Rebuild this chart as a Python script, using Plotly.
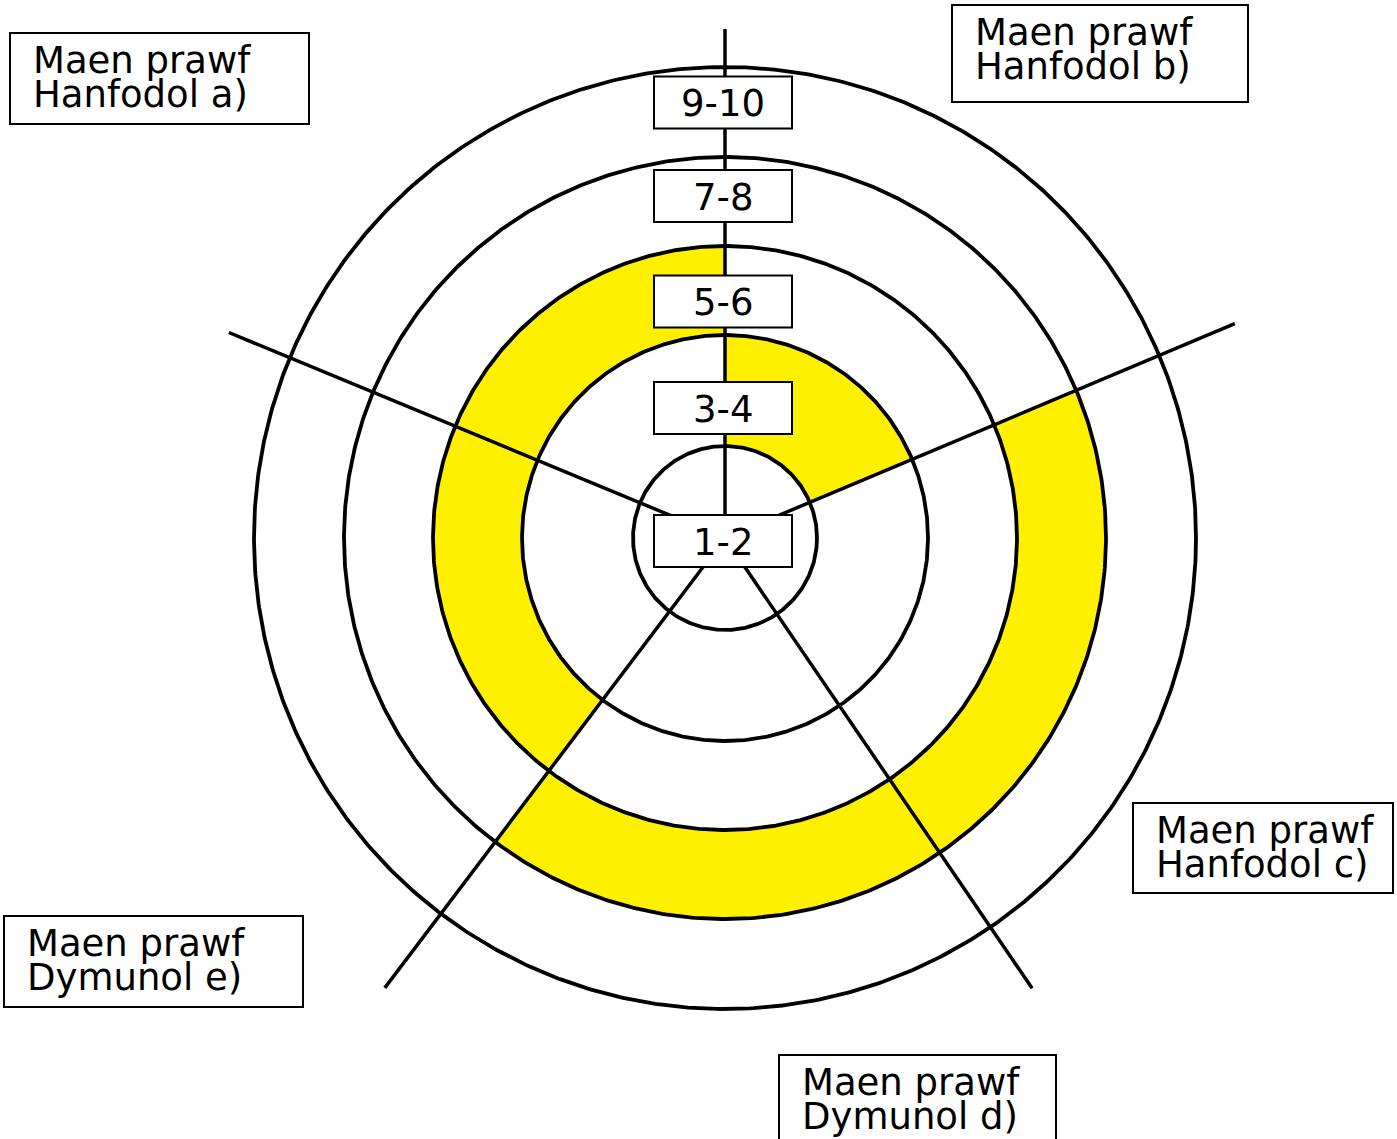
import numpy as np
import plotly.graph_objects as go

# ---------------- data ----------------
bands = ["1-2", "3-4", "5-6", "7-8", "9-10"]
criteria = [
    "Maen prawf\nHanfodol a)",
    "Maen prawf\nHanfodol b)",
    "Maen prawf\nHanfodol c)",
    "Maen prawf\nDymunol d)",
    "Maen prawf\nDymunol e)",
]
scores = ["5-6", "3-4", "7-8", "7-8", "5-6"]

# ---------------- layout constants ----------------
W, H = 1397, 1139
CX, CY = 725, 538                      # centre of target (px)
ring_r = [0, 92, 203, 292, 381, 471]   # ring boundaries (px)
# spoke angles (deg, counter-clockwise from east) and lengths (px)
spoke_deg = [90, 157.5, 232.9, 304.3, 22.8]
spoke_len = [509, 537, 564, 545, 553]
# sector for each criterion: (start spoke idx, end spoke idx)
sector_of = {0: (0, 1), 1: (4, 0), 2: (3, 4), 3: (2, 3), 4: (1, 2)}
# band label radial offsets (px above centre)
band_lab_r = [-3, 130, 236.5, 342, 435.5]
BOX_W, BOX_H = 138, 52
# criterion label boxes: x0, y0, x1, y1 (px)
crit_box = [
    (10, 33, 309, 124),
    (952, 5, 1248, 102),
    (1133, 803, 1393, 893),
    (779, 1055, 1056, 1150),
    (4, 916, 303, 1007),
]
FONT = "DejaVu Sans, Verdana, sans-serif"
FS = 37
YELLOW = "#FFF000"


def px(r, deg):
    t = np.radians(deg)
    return CX + r * np.cos(t), CY - r * np.sin(t)


fig = go.Figure()

# yellow sectors
for i, sc in enumerate(scores):
    k = bands.index(sc)
    r0, r1 = ring_r[k], ring_r[k + 1]
    a0 = spoke_deg[sector_of[i][0]]
    a1 = spoke_deg[sector_of[i][1]]
    if a1 < a0:
        a1 += 360
    th = np.linspace(a0, a1, 120)
    xo, yo = px(r1, th)
    xi, yi = px(r0, th[::-1])
    fig.add_trace(go.Scatter(
        x=np.concatenate([xo, xi, xo[:1]]),
        y=np.concatenate([yo, yi, yo[:1]]),
        mode="lines", fill="toself", fillcolor=YELLOW,
        line=dict(width=0), hoverinfo="skip", showlegend=False))

# rings
th = np.linspace(0, 360, 721)
for r in ring_r[1:]:
    x, y = px(r, th)
    fig.add_trace(go.Scatter(x=x, y=y, mode="lines",
                             line=dict(color="black", width=3.8),
                             hoverinfo="skip", showlegend=False))

# spokes
for a, L in zip(spoke_deg, spoke_len):
    x, y = px(np.array([0, L]), a)
    fig.add_trace(go.Scatter(x=x, y=y, mode="lines",
                             line=dict(color="black", width=3.5),
                             hoverinfo="skip", showlegend=False))

shapes = []
annotations = []
# band label boxes
for b, lr in zip(bands, band_lab_r):
    yc = CY - lr
    xc = CX - 2
    shapes.append(dict(type="rect", xref="x", yref="y",
                       x0=xc - BOX_W / 2, x1=xc + BOX_W / 2,
                       y0=yc - BOX_H / 2, y1=yc + BOX_H / 2,
                       line=dict(color="black", width=2),
                       fillcolor="white", layer="above"))
    annotations.append(dict(x=xc, y=yc + 1, xref="x", yref="y", text=b,
                            showarrow=False, xanchor="center", yanchor="middle",
                            font=dict(family=FONT, size=FS, color="black")))

# criterion label boxes
for lab, (x0, y0, x1, y1) in zip(criteria, crit_box):
    shapes.append(dict(type="rect", xref="x", yref="y",
                       x0=x0, x1=x1, y0=y0, y1=y1,
                       line=dict(color="black", width=2),
                       fillcolor="white", layer="above"))
    for j, line in enumerate(lab.split("\n")):
        annotations.append(dict(x=x0 + 21, y=y0 + 27 + 34 * j,
                                xref="x", yref="y", text=line,
                                showarrow=False, xanchor="left",
                                yanchor="middle",
                                font=dict(family=FONT, size=FS, color="black")))

fig.update_layout(
    width=W, height=H,
    margin=dict(l=0, r=0, t=0, b=0),
    paper_bgcolor="white", plot_bgcolor="white",
    xaxis=dict(range=[0, W], visible=False, fixedrange=True),
    yaxis=dict(range=[H, 0], visible=False, fixedrange=True),
    shapes=shapes, annotations=annotations,
    showlegend=False,
)

fig.write_html("out.html",
               config={"displayModeBar": False},
               post_script="document.body.style.margin='0px';"
                           "document.body.style.overflow='hidden';")
